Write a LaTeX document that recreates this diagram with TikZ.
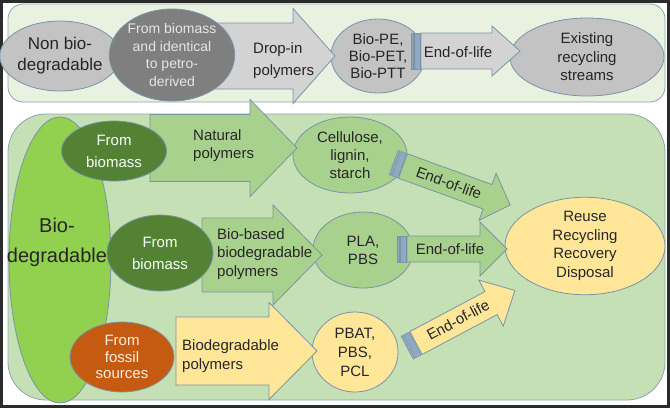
\documentclass[tikz,border=0pt]{standalone}
\usepackage{fontspec}
\setmainfont{Liberation Sans}
\usepackage{tikz}
\usepackage{xcolor}
\usetikzlibrary{shapes.geometric}
\definecolor{framec}{HTML}{2B2B2B}
\definecolor{topfillc}{HTML}{E9F2E1}
\definecolor{bottomfillc}{HTML}{C5E0B4}
\definecolor{boxlinec}{HTML}{8FA3AD}
\definecolor{shapelinec}{HTML}{7A94A6}
\definecolor{lightgrayc}{HTML}{C3C3C3}
\definecolor{darkgrayc}{HTML}{7F7F7F}
\definecolor{grayarrowc}{HTML}{D3D3D3}
\definecolor{stripec}{HTML}{8FA8C4}
\definecolor{biogreenc}{HTML}{92D050}
\definecolor{darkgreenc}{HTML}{548235}
\definecolor{lightgreenc}{HTML}{A9D18E}
\definecolor{yellowc}{HTML}{FFE699}
\definecolor{orangec}{HTML}{C55A11}
\colorlet{textdark}{black!85}
\colorlet{textgray}{white!90!black}
\colorlet{textgreen}{green!5!white}
\colorlet{textpeach}{orange!12!white}
\tikzstyle{blob} =[
    ellipse,
    draw=shapelinec,
    line width=0.8pt,
    inner sep=0pt,
    align=center,
    text=textdark
    ]
\tikzstyle{arrowtext} =[
    anchor=west,
    inner sep=0pt,
    align=left,
    text=textdark
    ]
\tikzstyle{grayarrow} =[fill=grayarrowc, draw=shapelinec, line width=0.8pt]
\tikzstyle{greenarrow} =[fill=lightgreenc, draw=shapelinec, line width=0.8pt]
\tikzstyle{yellowarrow} =[fill=yellowc, draw=shapelinec, line width=0.8pt]
\tikzstyle{stripe} =[fill=stripec, draw=shapelinec, line width=0.5pt]
\newcommand{\blockarrow}[7]{%
  \begin{scope}[shift={#2},rotate=#3]
    \filldraw[#1] (0,-#5) -- ({#4-#7},-#5) -- ({#4-#7},-#6) -- (#4,0)
      -- ({#4-#7},#6) -- ({#4-#7},#5) -- (0,#5) -- cycle;
  \end{scope}}
\newcommand{\arrowtail}[3]{%
  \begin{scope}[shift={#1},rotate=#2]
    \filldraw[stripe] (-10,-#3) rectangle (-8,#3);
    \filldraw[stripe] (-7,-#3) rectangle (-1,#3);
  \end{scope}}

\begin{document}
\begin{tikzpicture}[x=1pt,y=-1pt,font=\fontsize{15}{18}\selectfont]
\useasboundingbox (0,0) rectangle (670,408);
\fill[white] (0,0) rectangle (670,408);
\draw[framec, line width=3pt] (1.5,1.5) rectangle (668.5,406.5);
\draw[boxlinec, fill=topfillc, line width=0.8pt, rounded corners=15pt] (8,4) rectangle (665,102);
\draw[boxlinec, fill=bottomfillc, line width=0.8pt, rounded corners=38pt] (8,114) rectangle (665,400);

\node[blob, fill=biogreenc, minimum width=102, minimum height=286] (biodeg) at (60,260) {};
\node[blob, fill=lightgrayc, minimum width=94, minimum height=74, font=\fontsize{15}{17}\selectfont] (biope) at (378,56) {Bio-PE,\\Bio-PET,\\Bio-PTT};
\node[blob, fill=lightgrayc, minimum width=154, minimum height=78, font=\fontsize{15}{18.5}\selectfont] (existing) at (587,57) {Existing\\recycling\\streams};
\node[blob, fill=lightgreenc, minimum width=114, minimum height=76] (cellulose) at (350,155) {Cellulose,\\lignin,\\starch};
\node[blob, fill=lightgreenc, minimum width=100, minimum height=76] (pla) at (363,250) {PLA,\\PBS};
\node[blob, fill=yellowc, minimum width=86, minimum height=80, font=\fontsize{15}{19}\selectfont] (pbat) at (355,352) {PBAT,\\PBS,\\PCL};
\node[blob, fill=yellowc, minimum width=160, minimum height=82, font=\fontsize{15}{18.5}\selectfont] (reuse) at (585,246) {Reuse\\Recycling\\Recovery\\Disposal};

\blockarrow{grayarrow}{(200,56)}{0}{135}{33}{47.5}{42}
\blockarrow{greenarrow}{(150,148)}{0}{147}{33.5}{48.5}{47}
\blockarrow{greenarrow}{(202,255)}{0}{120}{37}{50}{49}
\blockarrow{yellowarrow}{(176,351)}{0}{141}{34}{48.5}{48}
\blockarrow{grayarrow}{(421,51)}{0}{99}{18}{25}{28}
\arrowtail{(421,51)}{0}{18}
\blockarrow{greenarrow}{(407,249)}{0}{100}{13}{27}{27}
\arrowtail{(407,249)}{0}{13}
\blockarrow{greenarrow}{(403,166)}{-20}{114}{13}{25}{24}
\arrowtail{(403,166)}{-20}{13}
\blockarrow{yellowarrow}{(416,343)}{28}{112}{13}{26}{27}
\arrowtail{(416,343)}{28}{13}

\node[blob, fill=lightgrayc, minimum width=105, minimum height=70, font=\fontsize{17}{21}\selectfont] (nonbio) at (60,56) {Non bio-\\degradable};
\node[blob, fill=darkgrayc, minimum width=120, minimum height=92, text=textgray, font=\fontsize{14}{17.5}\selectfont] (petro) at (172,55) {From biomass\\and identical\\to petro-\\derived};
\node[blob, fill=darkgreenc, minimum width=105, minimum height=60, text=textgreen, font=\fontsize{15}{22}\selectfont] (biomassa) at (114,151) {From\\biomass};
\node[blob, fill=darkgreenc, minimum width=106, minimum height=76, text=textgreen, font=\fontsize{15}{22}\selectfont] (biomassb) at (160,253) {From\\biomass};
\node[blob, fill=orangec, minimum width=104, minimum height=70, text=textpeach, font=\fontsize{15}{16.5}\selectfont] (fossil) at (122,357) {From\\fossil\\sources};
\node[align=center, text=textdark, font=\fontsize{20}{30}\selectfont] (biodegtext) at (57,242) {Bio-\\degradable};

\node[arrowtext, font=\fontsize{15}{22}\selectfont] (dropin) at (253,61) {Drop-in\\polymers};
\node[arrowtext] (natural) at (193,146) {Natural\\polymers};
\node[arrowtext, font=\fontsize{15}{18.5}\selectfont] (biobased) at (217,254) {Bio-based\\biodegradable\\polymers};
\node[arrowtext, font=\fontsize{15}{19}\selectfont] (biodegpoly) at (182,356) {Biodegradable\\polymers};
\node[text=textdark] (eolpe) at (458,52) {End-of-life};
\node[text=textdark] (eolpla) at (450,249) {End-of-life};
\node[text=textdark, rotate=-20] (eolcell) at (449,183) {End-of-life};
\node[text=textdark, rotate=28] (eolpbat) at (458,320) {End-of-life};
\end{tikzpicture}
\end{document}
